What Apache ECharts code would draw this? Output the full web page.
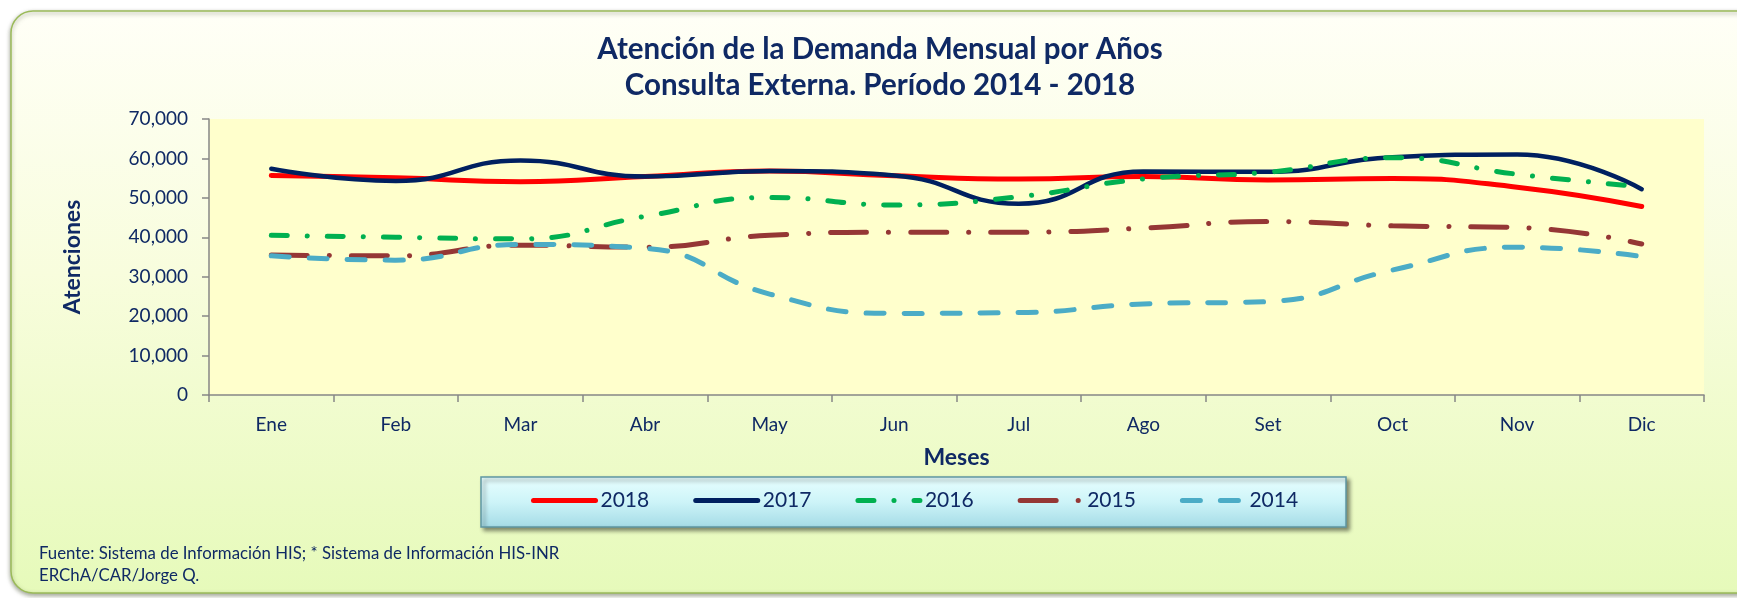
<html>
<head>
    <meta charset="utf-8">
    <title>Atención de la Demanda Mensual por Años</title>
    <script src="https://cdn.jsdelivr.net/npm/echarts@6/dist/echarts.min.js"></script>
    <style>
        html, body { margin: 0; padding: 0; background: #ffffff; }
        #main { width: 1737px; height: 598px; }
    </style>
</head>
<body>
    <div id="main"></div>
    <script>
        // datos (atenciones por mes)
        var meses = ['Ene', 'Feb', 'Mar', 'Abr', 'May', 'Jun', 'Jul', 'Ago', 'Set', 'Oct', 'Nov', 'Dic'];
        var anios = ['2018', '2017', '2016', '2015', '2014'];
        var v2018 = [55700, 55100, 54100, 55400, 56800, 55600, 54800, 55400, 54500, 54900, 52700, 47800];
        var v2017 = [57400, 54300, 59500, 55400, 56800, 55700, 48500, 56700, 56600, 60300, 61000, 52200];
        var v2016 = [40500, 40000, 39600, 45300, 50100, 48200, 50300, 54800, 56500, 60200, 56000, 52800];
        var v2015 = [35500, 35300, 38000, 37500, 40500, 41300, 41300, 42300, 44000, 42900, 42500, 38300];
        var v2014 = [35300, 34200, 38200, 37200, 25600, 20700, 20900, 23100, 23700, 31700, 37500, 35100];

        var navy = '#0F2964';
        var fuente = 'Lato, "Open Sans", sans-serif';

        var myChart = echarts.init(document.getElementById('main'));

        function linea(nombre, datos, color, ancho, tipo) {
            return {
                name: nombre,
                type: 'line',
                data: datos,
                smooth: 0.5,
                symbol: 'none',
                itemStyle: { color: color },
                lineStyle: { color: color, width: ancho, type: tipo, cap: 'round' }
            };
        }

        var option = {
            animation: false,
            textStyle: { fontFamily: fuente },
            title: {
                text: 'Atención de la Demanda Mensual por Años\nConsulta Externa. Período 2014 - 2018',
                left: 875,
                textAlign: 'center',
                top: 26,
                textStyle: { color: navy, fontSize: 29.5, fontWeight: 'bold', lineHeight: 36, fontFamily: fuente }
            },
            graphic: {
                elements: [
                    {
                        type: 'rect',
                        z: -100,
                        silent: true,
                        shape: { x: 11, y: 11, width: 1760, height: 582, r: 22 },
                        style: {
                            fill: new echarts.graphic.LinearGradient(0, 0, 0, 1, [
                                { offset: 0, color: '#FFFFF7' },
                                { offset: 0.45, color: '#F8FDDD' },
                                { offset: 1, color: '#E6FABA' }
                            ]),
                            stroke: '#9BBB59',
                            lineWidth: 1.5,
                            shadowBlur: 4,
                            shadowOffsetY: 2,
                            shadowColor: 'rgba(70,80,50,0.5)'
                        }
                    },
                    {
                        type: 'rect',
                        z: 1,
                        silent: true,
                        shape: { x: 481, y: 477, width: 865, height: 50 },
                        style: {
                            fill: new echarts.graphic.LinearGradient(0, 0, 0, 1, [
                                { offset: 0, color: '#E9FFFF' },
                                { offset: 0.5, color: '#CDF4F8' },
                                { offset: 1, color: '#A4DBE6' }
                            ]),
                            stroke: '#5F96A2',
                            lineWidth: 1.5,
                            shadowBlur: 4,
                            shadowOffsetX: 3,
                            shadowOffsetY: 3,
                            shadowColor: 'rgba(0,0,0,0.45)'
                        }
                    },
                    {
                        type: 'text',
                        silent: true,
                        x: 39,
                        y: 554,
                        style: {
                            text: 'Fuente: Sistema de Información HIS; * Sistema de Información HIS-INR',
                            fill: navy,
                            font: '16.8px ' + fuente,
                            verticalAlign: 'middle'
                        }
                    },
                    {
                        type: 'text',
                        silent: true,
                        x: 39,
                        y: 576,
                        style: {
                            text: 'ERChA/CAR/Jorge Q.',
                            fill: navy,
                            font: '16.8px ' + fuente,
                            verticalAlign: 'middle'
                        }
                    }
                ]
            },
            legend: {
                data: anios,
                left: 531,
                top: 490,
                padding: 0,
                itemWidth: 62,
                itemHeight: 24,
                itemGap: 44,
                itemStyle: { opacity: 0 },
                lineStyle: { width: 5 },
                textStyle: { color: navy, fontSize: 21, fontFamily: fuente }
            },
            grid: {
                left: 209,
                right: 33,
                top: 119,
                bottom: 203,
                show: true,
                backgroundColor: '#FFFFCC',
                borderWidth: 0
            },
            xAxis: {
                type: 'category',
                data: meses,
                boundaryGap: true,
                name: 'Meses',
                nameLocation: 'middle',
                nameGap: 51,
                nameTextStyle: { color: navy, fontSize: 23, fontWeight: 'bold', fontFamily: fuente },
                axisLine: { lineStyle: { color: '#868686', width: 1.5 } },
                axisTick: { show: true, length: 7, alignWithLabel: false, lineStyle: { color: '#868686', width: 1.5 } },
                axisLabel: { color: navy, fontSize: 19, margin: 20, fontFamily: fuente },
                splitLine: { show: false }
            },
            yAxis: {
                type: 'value',
                min: 0,
                max: 70000,
                interval: 10000,
                name: 'Atenciones',
                nameLocation: 'middle',
                nameRotate: 90,
                nameGap: 125,
                nameTextStyle: { color: navy, fontSize: 23, fontWeight: 'bold', fontFamily: fuente },
                axisLine: { show: true, lineStyle: { color: '#868686', width: 1.5 } },
                axisTick: { show: true, length: 7, lineStyle: { color: '#868686', width: 1.5 } },
                axisLabel: { color: navy, fontSize: 19, margin: 21, fontFamily: fuente },
                splitLine: { show: false }
            },
            series: [
                linea('2018', v2018, '#FF0000', 5, 'solid'),
                linea('2017', v2017, '#002060', 4.5, 'solid'),
                linea('2016', v2016, '#00B050', 5, [16, 20, 0.1, 20]),
                linea('2015', v2015, '#953735', 5, [36, 22, 0.1, 22]),
                linea('2014', v2014, '#4BACC6', 5, [18, 20])
            ]
        };
        myChart.setOption(option);
    </script>
</body>
</html>
